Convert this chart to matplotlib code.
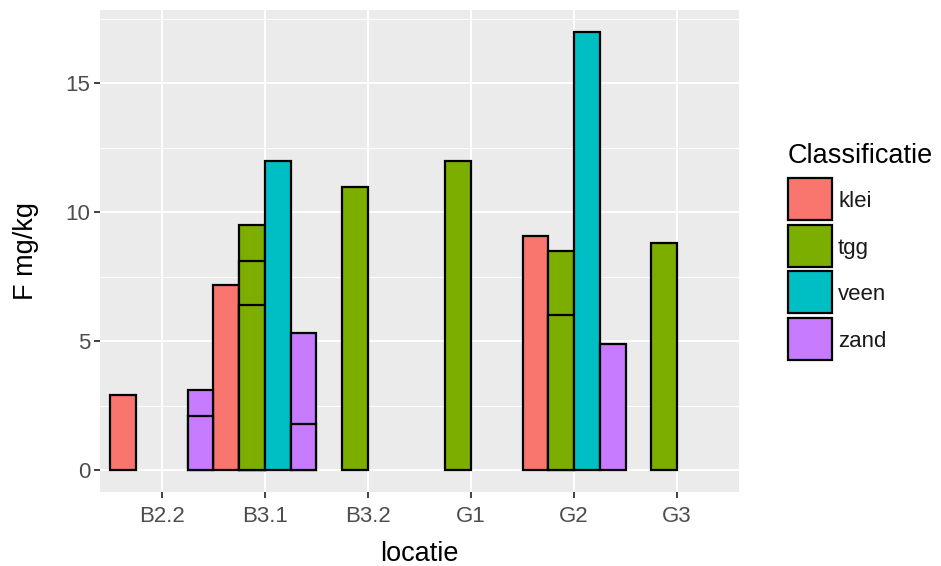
import numpy as np
import matplotlib.pyplot as plt
from matplotlib.patches import Rectangle

plt.rcParams['font.family'] = ['Liberation Sans', 'DejaVu Sans']

locaties = ["B2.2", "B3.1", "B3.2", "G1", "G2", "G3"]
klassen = ["klei", "tgg", "veen", "zand"]
kleuren = ["#F8766D", "#7CAE00", "#00BFC4", "#C77CFF"]

# metingen per locatie (meerdere metingen vallen over elkaar heen)
klei = [[2.9], [7.2], [], [], [9.1], []]
tgg = [[], [9.5, 8.1, 6.4], [11.0], [12.0], [8.5, 6.0], [8.8]]
veen = [[], [12.0], [], [], [17.0], []]
zand = [[3.1, 2.1], [5.3, 1.8], [], [], [4.9], []]
series = [klei, tgg, veen, zand]

W, H = 941, 566
fig = plt.figure(figsize=(W / 100, H / 100), dpi=100)
left, right, top, bottom = 100, 739, 10, 492
ax = fig.add_axes([left / W, 1 - bottom / H, (right - left) / W, (bottom - top) / H])
ax.set_facecolor("#EBEBEB")
for s in ax.spines.values():
    s.set_visible(False)

breedte = 0.25
x = np.arange(len(locaties))
for i, (waarden, kleur) in enumerate(zip(series, kleuren)):
    offset = (i - 1.5) * breedte
    for j, vals in enumerate(waarden):
        for v in sorted(vals, reverse=True):
            ax.bar(x[j] + offset, v, width=breedte, color=kleur,
                   edgecolor="black", linewidth=1.6, zorder=3)

ax.set_xlim(-0.6, 5.6)
ax.set_ylim(-0.85, 17.85)
ax.set_xticks(x)
ax.set_xticklabels(locaties)
ax.set_yticks([0, 5, 10, 15])
ax.set_yticks([2.5, 7.5, 12.5, 17.5], minor=True)
ax.grid(True, which="major", color="white", linewidth=1.4, zorder=0)
ax.grid(True, which="minor", axis="y", color="white", linewidth=0.7, zorder=0)
ax.set_axisbelow(True)
ax.tick_params(which="major", length=4.5, width=1.3, color="#333333",
               labelcolor="#4D4D4D", labelsize=16)
ax.tick_params(axis="x", pad=5.5)
ax.tick_params(axis="y", pad=2.5)
ax.tick_params(which="minor", length=0)

ax.set_xlabel("locatie", fontsize=19.5, color="black", va="center")
ax.xaxis.set_label_coords(0.5, (bottom - 554) / (bottom - top))
ax.set_ylabel("F mg/kg", fontsize=19.5, color="black", va="center")
ax.yaxis.set_label_coords((26 - left) / (right - left), 0.5)

# legenda
fig.text(788 / W, 1 - 163 / H, "Classificatie", fontsize=19.5,
         va="baseline", ha="left")
for k, (naam, kleur) in enumerate(zip(klassen, kleuren)):
    ktop = 178 + k * 46.7
    fig.add_artist(Rectangle((788 / W, 1 - (ktop + 42) / H), 44 / W, 42 / H,
                             transform=fig.transFigure, facecolor=kleur,
                             edgecolor="black", linewidth=1.6))
    fig.text(838 / W, 1 - (ktop + 29) / H, naam, fontsize=16,
             va="baseline", ha="left", color="#1A1A1A")

fig.savefig("out.png", dpi=100)
